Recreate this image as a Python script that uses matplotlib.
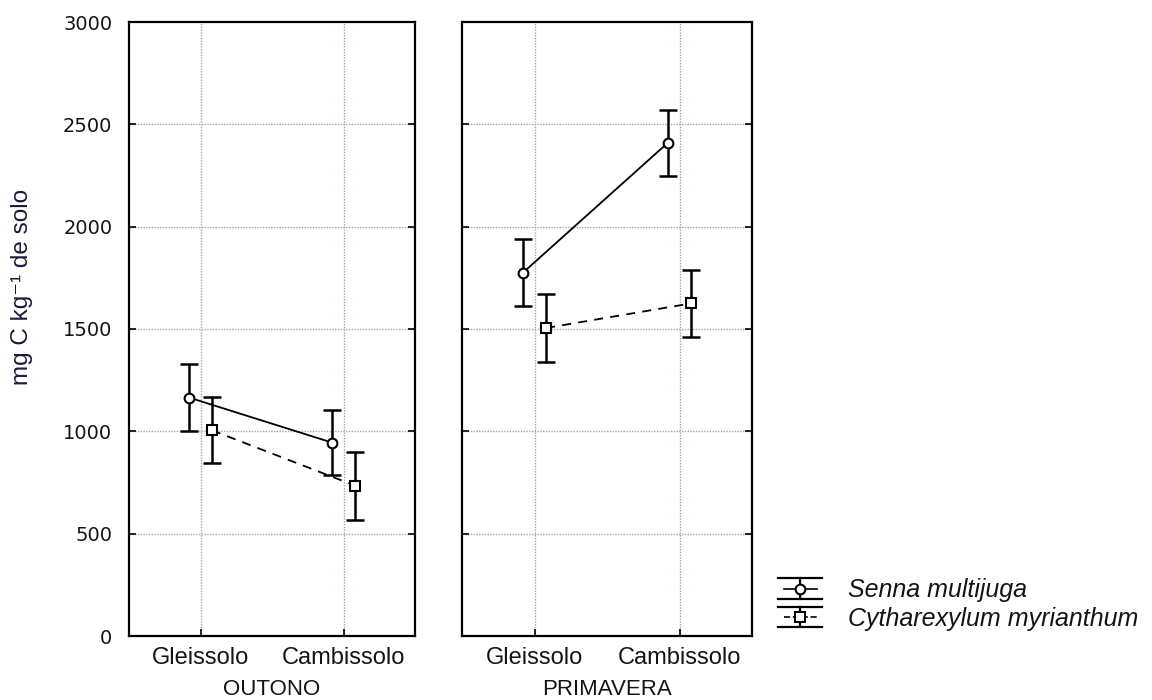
import matplotlib
matplotlib.use("Agg")
import matplotlib.pyplot as plt
from matplotlib.lines import Line2D
from matplotlib.legend_handler import HandlerBase
import numpy as np

plt.rcParams['font.family'] = ['Liberation Sans', 'DejaVu Sans']

# Data
seasons = ["OUTONO", "PRIMAVERA"]
soils = ["Gleissolo", "Cambissolo"]
species = ["Senna multijuga", "Cytharexylum myrianthum"]

senna_mean = {"OUTONO": [1165, 945], "PRIMAVERA": [1775, 2410]}
senna_err = {"OUTONO": [162, 160], "PRIMAVERA": [165, 160]}
cyth_mean = {"OUTONO": [1005, 735], "PRIMAVERA": [1505, 1625]}
cyth_err = {"OUTONO": [162, 166], "PRIMAVERA": [168, 162]}

y_ticks = [0, 500, 1000, 1500, 2000, 2500, 3000]
y_label = "mg C kg\u207b\u00b9 de solo"

TXT = "#141414"

fig = plt.figure(figsize=(11.52, 7.0), dpi=100)
W, H = 1152, 700
panels = [(129, 415), (462, 752)]
top_px, bot_px = 22, 636

offset = 0.08
x = np.arange(len(soils))
axes = []
for i, season in enumerate(seasons):
    l, r = panels[i]
    ax = fig.add_axes([l / W, 1 - bot_px / H, (r - l) / W, (bot_px - top_px) / H])
    axes.append(ax)
    ax.set_xlim(-0.5, 1.5)
    ax.set_ylim(0, 3000)

    # two-tone dotted grid
    for yv in y_ticks[1:-1]:
        ax.axhline(yv, color="#d38ad3", lw=1.0, ls=(0, (1, 3)), zorder=0)
        ax.axhline(yv, color="#8fae8f", lw=1.0, ls=(2, (1, 3)), zorder=0)
    for xv in x:
        ax.axvline(xv, color="#d38ad3", lw=1.0, ls=(0, (1, 3)), zorder=0)
        ax.axvline(xv, color="#8fae8f", lw=1.0, ls=(2, (1, 3)), zorder=0)

    s_line, = ax.plot(x - offset, senna_mean[season], color="black", lw=1.3, ls="-",
                      marker="o", ms=7, mfc="white", mec="black", mew=1.5, zorder=3)
    ax.errorbar(x - offset, senna_mean[season], yerr=senna_err[season], fmt="none",
                ecolor="black", elinewidth=1.8, capsize=6.5, capthick=1.8, zorder=2)
    c_line, = ax.plot(x + offset, cyth_mean[season], color="black", lw=1.3, ls=(0, (5, 4)),
                      marker="s", ms=7.5, mfc="white", mec="black", mew=1.5, zorder=3)
    ax.errorbar(x + offset, cyth_mean[season], yerr=cyth_err[season], fmt="none",
                ecolor="black", elinewidth=1.8, capsize=6.5, capthick=1.8, zorder=2)

    ax.set_xticks(x)
    ax.set_xticklabels(soils, fontsize=17, color=TXT)
    ax.set_yticks(y_ticks)
    if i == 0:
        ax.set_yticklabels([str(v) for v in y_ticks], fontsize=14, color=TXT,
                           family=["DejaVu Sans"])
    else:
        ax.set_yticklabels([])
    ax.tick_params(axis="y", direction="in", length=5, width=1.2, left=True, right=True, pad=12)
    ax.tick_params(axis="x", direction="in", length=5, width=1.2, bottom=True, top=False, pad=8)
    for sp in ax.spines.values():
        sp.set_linewidth(1.6)
        sp.set_color("black")
    ax.set_xlabel(season, fontsize=16, color=TXT, labelpad=7)

fig.text(22 / W, 1 - 287 / H, y_label, rotation=90, fontsize=17.5, color="#1a1a3a",
         ha="center", va="center")


class ErrorGlyph(HandlerBase):
    def create_artists(self, legend, orig_handle, xdescent, ydescent, width, height, fontsize, trans):
        cx = width / 2 - xdescent
        cy = height / 2 - ydescent
        hw = width / 2
        hh = 7.5
        arts = []
        arts.append(Line2D([cx, cx], [cy - hh, cy + hh], color="black", lw=1.6))
        arts.append(Line2D([cx - hw, cx + hw], [cy + hh, cy + hh], color="black", lw=1.6))
        arts.append(Line2D([cx - hw, cx + hw], [cy - hh, cy - hh], color="black", lw=1.6))
        arts.append(Line2D([cx - hw * 0.75, cx + hw * 0.75], [cy, cy], color="black", lw=1.2,
                           ls=orig_handle.get_linestyle()))
        arts.append(Line2D([cx], [cy], marker=orig_handle.get_marker(), ms=orig_handle.get_markersize(),
                           mfc="white", mec="black", mew=1.5, ls="none"))
        for a in arts:
            a.set_transform(trans)
        return arts


leg = fig.legend([s_line, c_line], species, loc="center left",
                 bbox_to_anchor=(778 / W, 1 - 604 / H), frameon=False,
                 handler_map={Line2D: ErrorGlyph()}, handlelength=1.76, handleheight=1.0,
                 handletextpad=1.04, labelspacing=0.15, borderpad=0, borderaxespad=0,
                 prop={"style": "italic", "size": 18})
for t in leg.get_texts():
    t.set_color(TXT)

fig.savefig("out.png", dpi=100)
